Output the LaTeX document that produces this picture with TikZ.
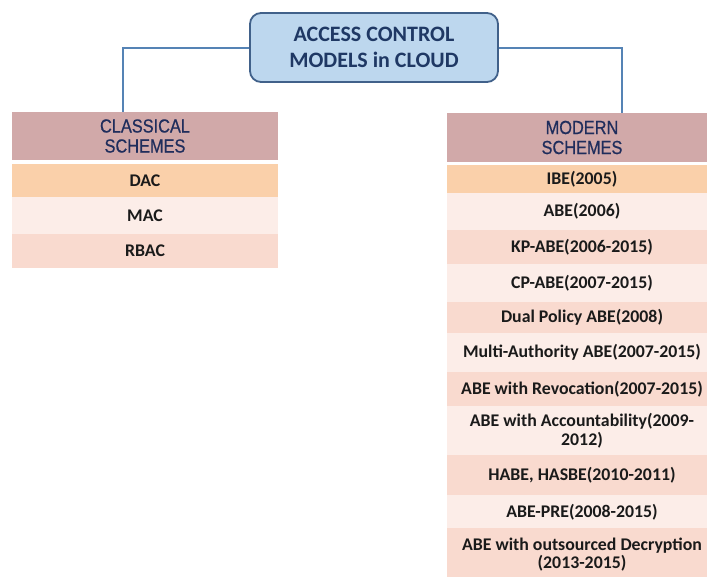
\documentclass[tikz,border=0pt]{standalone}
\usepackage{fontspec}
\setmainfont{Carlito}
\newfontfamily\hdrfont[FakeStretch=0.86,FakeBold=0.6]{Liberation Sans}
\definecolor{hdrfill}{HTML}{D1A9A9}
\definecolor{hdrtext}{HTML}{1F2D5C}
\definecolor{rowA}{HTML}{FAD0AA}
\definecolor{rowB}{HTML}{FCEDE8}
\definecolor{rowC}{HTML}{F9DACF}
\definecolor{topfill}{HTML}{BDD7EE}
\definecolor{topdraw}{HTML}{41618A}
\definecolor{topText}{HTML}{1F3864}
\definecolor{linkc}{HTML}{5583B5}
\definecolor{rowtext}{HTML}{1A1A1A}
\tikzset{
  rowbox/.style={inner sep=0pt, outer sep=0pt, align=center, text=rowtext,
    font=\fontsize{17.8}{18.5}\selectfont\bfseries},
  leftrow/.style={rowbox, minimum width=266pt},
  rightrow/.style={rowbox, minimum width=270pt},
  hdrbox/.style={inner sep=0pt, outer sep=0pt, align=center, fill=hdrfill, text=hdrtext,
    font=\hdrfont\fontsize{19}{20}\selectfont},
  topbox/.style={draw=topdraw, line width=1.8pt, fill=topfill, rounded corners=11pt,
    minimum width=248pt, minimum height=69pt, inner sep=0pt, align=center, text=topText,
    font=\fontsize{22}{26}\selectfont\bfseries},
  link/.style={draw=linkc, line width=2pt}
}
\begin{document}
\begin{tikzpicture}[x=1pt,y=-1pt]
\useasboundingbox (0,0) rectangle (707,576);
\clip (0,0) rectangle (707,576);
% top box
\node[topbox] (top) at (374,47.5) {ACCESS CONTROL\\MODELS in CLOUD};
% left column
\node[hdrbox, minimum width=266pt, minimum height=48pt] (chdr) at (145,136) {CLASSICAL\\SCHEMES};
\node[leftrow, fill=rowA, minimum height=33pt] (dac) at (145,180.5) {DAC};
\node[leftrow, fill=rowB, minimum height=37pt] (mac) at (145,215.5) {MAC};
\node[leftrow, fill=rowC, minimum height=34pt] (rbac) at (145,251) {RBAC};
% right column
\node[hdrbox, minimum width=270pt, minimum height=49pt] (mhdr) at (582,137.5) {MODERN\\SCHEMES};
\node[rightrow, fill=rowA, minimum height=28pt] (ibe) at (582,179) {IBE(2005)};
\node[rightrow, fill=rowB, minimum height=37pt] (abe) at (582,211.5) {ABE(2006)};
\node[rightrow, fill=rowC, minimum height=34pt] (kp) at (582,247) {KP-ABE(2006-2015)};
\node[rightrow, fill=rowB, minimum height=38pt] (cp) at (582,283) {CP-ABE(2007-2015)};
\node[rightrow, fill=rowC, minimum height=31pt] (dual) at (582,317.5) {Dual Policy ABE(2008)};
\node[rightrow, fill=rowB, minimum height=39pt] (multi) at (582,352.5) {Multi-Authority ABE(2007-2015)};
\node[rightrow, fill=rowC, minimum height=34pt] (revoc) at (582,389) {ABE with Revocation(2007-2015)};
\node[rightrow, fill=rowB, minimum height=49pt] (acct) at (582,430.5) {ABE with Accountability(2009-\\2012)};
\node[rightrow, fill=rowC, minimum height=40pt] (habe) at (582,475) {HABE, HASBE(2010-2011)};
\node[rightrow, fill=rowB, minimum height=35pt] (pre) at (582,512.5) {ABE-PRE(2008-2015)};
\node[rightrow, fill=rowC, minimum height=50pt, text depth=0pt] (outs) at (582,553) {ABE with outsourced Decryption\\(2013-2015)};
% connectors
\draw[link] (top.west) -| ([xshift=-22pt]chdr.north);
\draw[link] (top.east) -| ([xshift=40pt]mhdr.north);
\end{tikzpicture}
\end{document}
